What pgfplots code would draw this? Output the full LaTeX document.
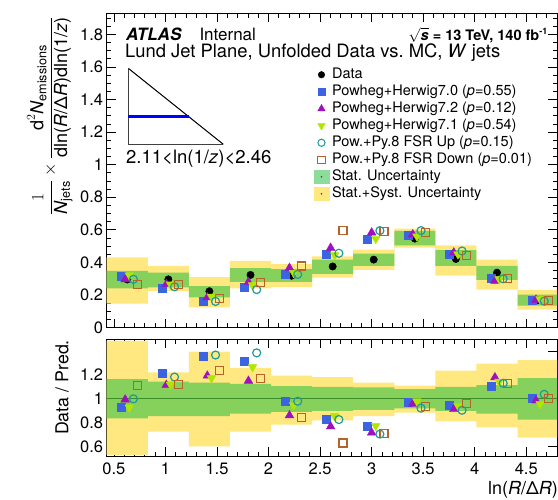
\documentclass[border=0pt]{standalone}
\usepackage{fontspec}
\setmainfont{TeX Gyre Heros}
\setsansfont{TeX Gyre Heros}
\usepackage{amsmath}
\usepackage{pgfplots}
\usepackage{pgfplotstable}
\usepgfplotslibrary{fillbetween}
\pgfplotsset{compat=1.18}

\definecolor{cyel}{RGB}{255,232,128}
\definecolor{cgrn}{RGB}{134,208,92}
\definecolor{cgrnleg}{RGB}{140,220,155}
\definecolor{cblue}{RGB}{60,100,225}
\definecolor{cpurp}{RGB}{160,16,190}
\definecolor{clime}{RGB}{176,230,0}
\definecolor{cteal}{RGB}{30,155,155}
\definecolor{cbrown}{RGB}{180,100,40}
\definecolor{cline}{RGB}{60,140,40}

\newcommand{\ti}[1]{\text{\itshape #1}}

% top panel: bin centres and values
\pgfplotstableread{
c data h70 h72 h71 up down
0.629 0.295 0.316 0.296 0.320 0.296 0.266
1.028 0.296 0.243 0.266 0.265 0.250 0.263
1.426 0.223 0.163 0.185 0.190 0.160 0.177
1.825 0.323 0.246 0.280 0.260 0.233 0.275
2.223 0.318 0.325 0.366 0.336 0.326 0.378
2.622 0.375 0.452 0.489 0.445 0.456 0.597
3.020 0.417 0.545 0.583 0.545 0.595 0.590
3.419 0.546 0.565 0.572 0.560 0.595 0.585
3.817 0.421 0.448 0.460 0.450 0.470 0.440
4.216 0.337 0.303 0.286 0.298 0.299 0.300
4.614 0.167 0.166 0.170 0.174 0.162 0.167
}\topdata

% top panel bands (left bin edges, last row = right edge)
\pgfplotstableread{
x glo ghi ylo yhi
0.4300 0.240 0.348 0.146 0.431
0.8285 0.246 0.3375 0.225 0.379
1.2270 0.185 0.254 0.123 0.310
1.6255 0.281 0.365 0.240 0.410
2.0240 0.281 0.358 0.250 0.390
2.4225 0.329 0.417 0.306 0.4375
2.8210 0.379 0.454 0.354 0.479
3.2195 0.504 0.594 0.490 0.608
3.6180 0.379 0.475 0.319 0.504
4.0165 0.292 0.379 0.233 0.417
4.4150 0.135 0.202 0.110 0.229
4.8135 0.135 0.202 0.110 0.229
}\topband

% ratio panel values
\pgfplotstableread{
c h70 h72 h71 up down
0.629 0.933 0.994 0.928 1.000 1.110
1.028 1.217 1.116 1.120 1.183 1.120
1.426 1.354 1.194 1.174 1.368 1.240
1.825 1.319 1.151 1.267 1.386 1.174
2.223 0.980 0.861 0.948 0.980 0.846
2.622 0.832 0.768 0.855 0.826 0.629
3.020 0.768 0.716 0.774 0.704 0.710
3.419 0.971 0.957 0.980 0.922 0.933
3.817 0.948 0.913 0.942 0.904 0.962
4.216 1.107 1.180 1.145 1.130 1.130
4.614 1.009 0.986 0.957 1.038 1.000
}\ratdata

\pgfplotstableread{
x glo ghi ylo yhi
0.4300 0.835 1.165 0.530 1.487
0.8285 0.855 1.145 0.725 1.223
1.2270 0.855 1.136 0.600 1.397
1.6255 0.875 1.125 0.725 1.260
2.0240 0.890 1.107 0.783 1.194
2.4225 0.900 1.100 0.820 1.183
2.8210 0.907 1.096 0.855 1.136
3.2195 0.919 1.081 0.884 1.110
3.6180 0.900 1.100 0.810 1.238
4.0165 0.875 1.116 0.760 1.296
4.4150 0.826 1.174 0.675 1.325
4.8135 0.826 1.174 0.675 1.325
}\ratband

\pgfplotsset{
  atl/.style={
    scale only axis, width=450.5pt,
    xmin=0.43, xmax=4.8,
    tick align=inside, xtick pos=both, ytick pos=both,
    major tick length=9pt, minor tick length=4.5pt,
    axis line style={line width=0.9pt},
    every tick/.style={black, line width=0.8pt},
    xtick={0.5,1,1.5,2,2.5,3,3.5,4,4.5},
    minor xtick={0.4,0.5,...,4.9},
    tick label style={font=\fontsize{16.5}{18}\selectfont},
    /pgf/number format/assume math mode=true,
  },
  mdata/.style={only marks, mark=*, mark size=3.7pt, black},
  mh70/.style={only marks, mark=square*, mark size=4pt, cblue},
  mh72/.style={only marks, mark=triangle*, mark size=5pt, cpurp},
  mh71/.style={only marks, mark=triangle*, mark size=5pt, clime, mark options={rotate=180}},
  mup/.style={only marks, mark=o, mark size=4pt, cteal, mark options={line width=1.2pt}},
  mdown/.style={only marks, mark=square, mark size=4pt, cbrown, mark options={line width=1.1pt}},
}

\begin{document}
\begin{tikzpicture}[x=1pt,y=1pt]
% ---------------- top panel ----------------
\begin{axis}[atl,
  at={(106.7pt,-327.5pt)}, anchor=south west,
  height=314.2pt, ymin=0, ymax=1.93,
  ytick={0,0.2,0.4,0.6,0.8,1,1.2,1.4,1.6,1.8},
  minor ytick={0,0.05,...,1.95},
  xticklabels={},
  legend cell align=left,
  legend style={draw=none, fill=none, at={(0.46,0.8267)}, anchor=north west,
    inner sep=0pt, outer sep=0pt, row sep=3pt, column sep=3pt,
    font=\fontsize{14.5}{16}\selectfont,
    nodes={inner sep=0pt, text height=11pt, text depth=3pt}},
]
\addlegendimage{legend image code/.code={\draw[black, fill=black, mark=*, mark size=3.3pt] plot coordinates {(7.35pt,0pt)};}}
\addlegendentry{Data}
\addlegendimage{legend image code/.code={\draw[cblue, fill=cblue, mark=square*, mark size=3.6pt] plot coordinates {(7.35pt,0pt)};}}
\addlegendentry{Powheg+Herwig7.0 (\textit{p}=0.55)}
\addlegendimage{legend image code/.code={\draw[cpurp, fill=cpurp, mark=triangle*, mark size=4.3pt] plot coordinates {(7.35pt,0pt)};}}
\addlegendentry{Powheg+Herwig7.2 (\textit{p}=0.12)}
\addlegendimage{legend image code/.code={\draw[clime, fill=clime, mark=triangle*, mark size=4.3pt, mark options={rotate=180}] plot coordinates {(7.35pt,0pt)};}}
\addlegendentry{Powheg+Herwig7.1 (\textit{p}=0.54)}
\addlegendimage{legend image code/.code={\draw[cteal, mark=o, mark size=3.6pt, mark options={line width=1pt}] plot coordinates {(7.35pt,0pt)};}}
\addlegendentry{Pow.+Py.8 FSR Up (\textit{p}=0.15)}
\addlegendimage{legend image code/.code={\draw[cbrown, mark=square, mark size=3.6pt, mark options={line width=1pt}] plot coordinates {(7.35pt,0pt)};}}
\addlegendentry{Pow.+Py.8 FSR Down (\textit{p}=0.01)}
\addlegendimage{legend image code/.code={\fill[cgrnleg] (0pt,-6.3pt) rectangle (14.7pt,6.3pt); \fill[black!70] (7.35pt,0pt) circle (0.6pt);}}
\addlegendentry{Stat. Uncertainty}
\addlegendimage{legend image code/.code={\fill[cyel] (0pt,-6.3pt) rectangle (14.7pt,6.3pt); \fill[black!70] (7.35pt,0pt) circle (0.6pt);}}
\addlegendentry{Stat.+Syst. Uncertainty}

\addplot[name path=tyh, const plot, draw=none, forget plot] table[x=x, y=yhi] {\topband};
\addplot[name path=tyl, const plot, draw=none, forget plot] table[x=x, y=ylo] {\topband};
\addplot[fill=cyel, draw=none, forget plot] fill between[of=tyh and tyl];
\addplot[name path=tgh, const plot, draw=none, forget plot] table[x=x, y=ghi] {\topband};
\addplot[name path=tgl, const plot, draw=none, forget plot] table[x=x, y=glo] {\topband};
\addplot[fill=cgrn, draw=none, forget plot] fill between[of=tgh and tgl];

\addplot[mdata, forget plot] table[x=c, y=data] {\topdata};
\addplot[mh70, forget plot] table[x expr=\thisrow{c}-0.06, y=h70] {\topdata};
\addplot[mh72, forget plot] table[x expr=\thisrow{c}-0.02, y=h72] {\topdata};
\addplot[mh71, forget plot] table[x expr=\thisrow{c}+0.02, y=h71] {\topdata};
\addplot[mup, forget plot] table[x expr=\thisrow{c}+0.06, y=up] {\topdata};
\addplot[mdown, forget plot] table[x expr=\thisrow{c}+0.10, y=down] {\topdata};
\end{axis}

% ---------------- ratio panel ----------------
\begin{axis}[atl,
  at={(106.7pt,-456pt)}, anchor=south west,
  height=116.7pt, ymin=0.52, ymax=1.5,
  ytick={0.6,0.8,1,1.2},
  minor ytick={0.5,0.6,...,1.5},
  extra y ticks={1.4}, extra y tick labels={},
  xticklabel style={yshift=-3pt},
]
\addplot[name path=ryh, const plot, draw=none] table[x=x, y=yhi] {\ratband};
\addplot[name path=ryl, const plot, draw=none] table[x=x, y=ylo] {\ratband};
\addplot[fill=cyel, draw=none] fill between[of=ryh and ryl];
\addplot[name path=rgh, const plot, draw=none] table[x=x, y=ghi] {\ratband};
\addplot[name path=rgl, const plot, draw=none] table[x=x, y=glo] {\ratband};
\addplot[fill=cgrn, draw=none] fill between[of=rgh and rgl];
\addplot[cline, line width=1.3pt] coordinates {(0.43,1) (4.8,1)};

\addplot[mh70] table[x expr=\thisrow{c}-0.06, y=h70] {\ratdata};
\addplot[mh72] table[x expr=\thisrow{c}-0.02, y=h72] {\ratdata};
\addplot[mh71] table[x expr=\thisrow{c}+0.02, y=h71] {\ratdata};
\addplot[mup] table[x expr=\thisrow{c}+0.06, y=up] {\ratdata};
\addplot[mdown] table[x expr=\thisrow{c}+0.10, y=down] {\ratdata};
\end{axis}

% ---------------- texts and inset ----------------
\node[anchor=base west, inner sep=0pt, font=\fontsize{17}{20}\selectfont\bfseries\itshape] at (126,-40.5) {ATLAS};
\node[anchor=base west, inner sep=0pt, font=\fontsize{17}{20}\selectfont] at (199.3,-40.5) {Internal};
\node[anchor=base east, inner sep=0pt, font=\fontsize{14.5}{16}\selectfont\bfseries] at (548,-40) {$\sqrt{\mbox{\bfseries\itshape s}}$ = 13 TeV, 140 fb$^{\mbox{\fontsize{9}{10}\selectfont\bfseries -1}}$};
\node[anchor=base west, inner sep=0pt, font=\fontsize{18.4}{20}\selectfont] at (125,-57.3) {Lund Jet Plane, Unfolded Data vs.\ MC, \textit{W} jets};

\draw[line width=1pt, black] (128.3,-68.3) -- (223.3,-144.3);
\draw[line width=1.6pt, black!75] (128.3,-68.3) -- (128.3,-144.3) -- (223.3,-144.3);
\draw[line width=3pt, blue] (128.3,-116.7) -- (188.6,-116.7);
\node[anchor=base west, inner sep=0pt, font=\fontsize{18.5}{20}\selectfont] at (126,-163) {2.11<ln(1/\textit{z})<2.46};

\node[rotate=90, inner sep=0pt, font=\fontsize{18}{20}\selectfont] at (50,-116)
  {$\displaystyle\frac{1}{\ti{N}_{\text{jets}}}\times\frac{\text{d}^{2}\ti{N}_{\text{emissions}}}{\text{dln(}\ti{R}\text{/Δ}\ti{R}\text{)dln(1/}\ti{z}\text{)}}$};
\node[rotate=90, inner sep=0pt, font=\fontsize{17.8}{20}\selectfont] at (62,-387.5) {Data / Pred.};
\node[anchor=north west, inner sep=0pt, font=\fontsize{18}{20}\selectfont] at (488,-481.5) {ln(\textit{R}/Δ\textit{R})};

\pgfresetboundingbox
\path[use as bounding box] (0,0) rectangle (558,-499);
\end{tikzpicture}
\end{document}
